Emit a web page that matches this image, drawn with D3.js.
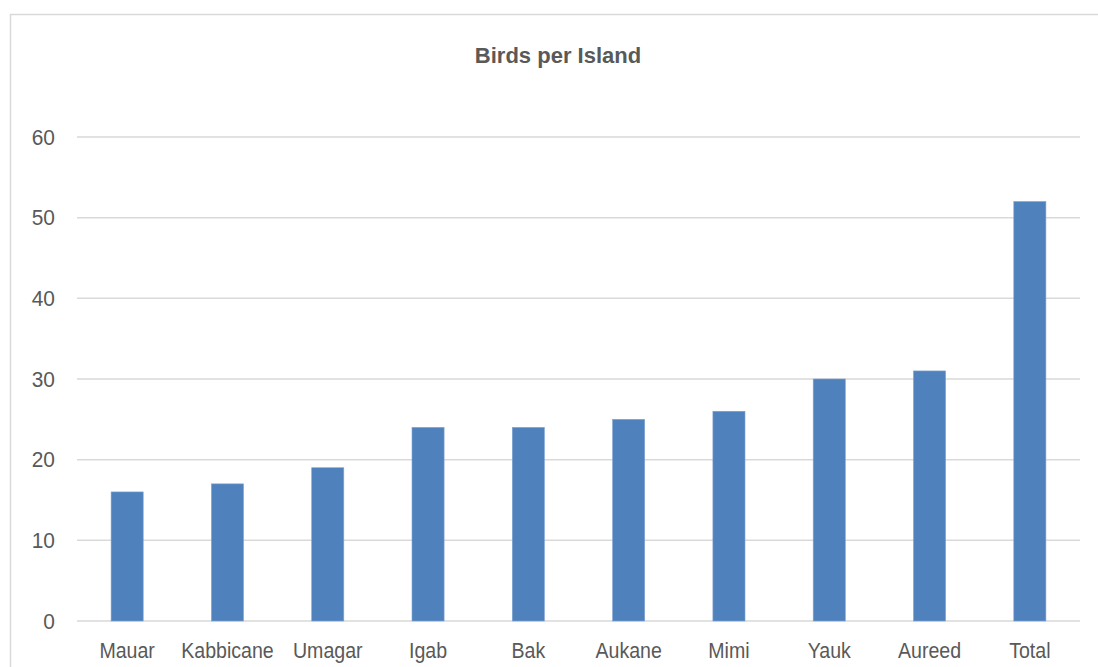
<!DOCTYPE html>
<html><head><meta charset="utf-8">
<script src="https://cdn.jsdelivr.net/npm/d3@7"></script>
<style>body{margin:0;background:#fff;}svg{display:block;}</style>
</head><body>
<svg id="c" width="1098" height="667"></svg>
<script>
const categories = ["Mauar","Kabbicane","Umagar","Igab","Bak","Aukane","Mimi","Yauk","Aureed","Total"];
const birds = [16,17,19,24,24,25,26,30,31,52];
const yTicks = [0,10,20,30,40,50,60];
const title = "Birds per Island";

const svg = d3.select("#c");
const FONT = "'Liberation Sans Narrow','Arial Narrow','Liberation Sans',sans-serif";
svg.append("rect").attr("x",10.5).attr("y",14.5).attr("width",1200).attr("height",800)
  .attr("fill","none").attr("stroke","#d9d9d9").attr("stroke-width",1.5);

const x = d3.scaleBand().domain(categories).range([77,1080]).paddingInner(0.68).paddingOuter(0.34);
const y = d3.scaleLinear().domain([0,60]).range([621,137]);

const grid = svg.append("g");
grid.selectAll("line").data(yTicks).join("line")
  .attr("x1",77).attr("x2",1080).attr("y1",d=>y(d)).attr("y2",d=>y(d))
  .attr("stroke","#d9d9d9").attr("stroke-width",1.5);

const yAxis = svg.append("g").attr("transform","translate(55,0)")
  .call(d3.axisLeft(y).tickValues(yTicks).tickSize(0).tickPadding(0));
yAxis.select(".domain").remove();
yAxis.selectAll("text").attr("font-family",FONT).attr("font-size",22).attr("fill","#595959")
  .attr("transform","scale(0.95,1)");

svg.append("g").selectAll("rect").data(birds).join("rect")
  .attr("x",(d,i)=>x(categories[i])).attr("width",x.bandwidth())
  .attr("y",d=>y(d)).attr("height",d=>y(0)-y(d))
  .attr("fill","#4f81bd").attr("stroke","#7fa3d1").attr("stroke-width",0.6);

const xAxis = svg.append("g").attr("transform","translate(0,621)")
  .call(d3.axisBottom(x).tickSize(0).tickPadding(0));
xAxis.select(".domain").remove();
xAxis.selectAll("text").attr("font-family",FONT).attr("font-size",22).attr("fill","#595959")
  .attr("dy",null).attr("y",37).attr("transform","scale(0.89,1)");

svg.append("text").attr("x",558).attr("y",63).attr("text-anchor","middle")
  .attr("font-family",FONT).attr("font-weight","bold").attr("font-size",22).attr("fill","#595959")
  .text(title);
</script>
</body></html>
